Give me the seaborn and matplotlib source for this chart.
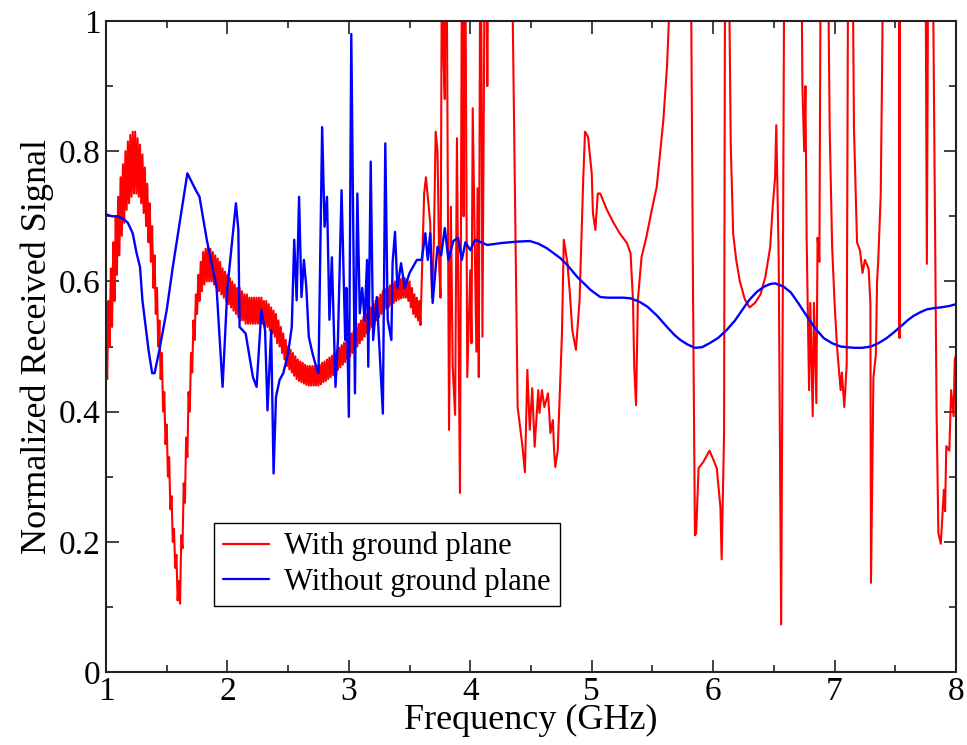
import matplotlib
matplotlib.use("Agg")
import matplotlib.pyplot as plt
import seaborn as sns
import pandas as pd

# ---------------- data ----------------
x_ticks = [1, 2, 3, 4, 5, 6, 7, 8]
y_ticks = [0, 0.2, 0.4, 0.6, 0.8, 1.0]
y_tick_labels = ["0", "0.2", "0.4", "0.6", "0.8", "1"]
series_names = ["With ground plane", "Without ground plane"]

# "With ground plane": fast ripple band 1.0-3.6 GHz, read as upper and lower crests
red_ripple_hi_freq = [
    1.00, 1.02, 1.04, 1.06, 1.08, 1.10, 1.12, 1.14, 1.16, 1.18,
    1.20, 1.22, 1.24, 1.26, 1.28, 1.30, 1.32, 1.34, 1.36, 1.38,
    1.40, 1.42, 1.44, 1.46, 1.48, 1.50, 1.52, 1.54, 1.56, 1.58,
    1.60, 1.62, 1.64, 1.66, 1.68, 1.70, 1.72, 1.74, 1.76, 1.78,
    1.80, 1.82, 1.84, 1.86, 1.88, 1.90, 1.92, 1.94, 1.96, 1.98,
    2.00, 2.02, 2.04, 2.06, 2.08, 2.10, 2.12, 2.14, 2.16, 2.18,
    2.20, 2.22, 2.24, 2.26, 2.28, 2.30, 2.32, 2.34, 2.36, 2.38,
    2.40, 2.42, 2.44, 2.46, 2.48, 2.50, 2.52, 2.54, 2.56, 2.58,
    2.60, 2.62, 2.64, 2.66, 2.68, 2.70, 2.72, 2.74, 2.76, 2.78,
    2.80, 2.82, 2.84, 2.86, 2.88, 2.90, 2.92, 2.94, 2.96, 2.98,
    3.00, 3.02, 3.04, 3.06, 3.08, 3.10, 3.12, 3.14, 3.16, 3.18,
    3.20, 3.22, 3.24, 3.26, 3.28, 3.30, 3.32, 3.34, 3.36, 3.38,
    3.40, 3.42, 3.44, 3.46, 3.48, 3.50, 3.52, 3.54, 3.56, 3.58,
]
red_ripple_hi = [
    0.50, 0.57, 0.62, 0.66, 0.70, 0.73, 0.76, 0.78, 0.80, 0.815,
    0.825, 0.83, 0.83, 0.82, 0.81, 0.795, 0.775, 0.75, 0.72, 0.685,
    0.64, 0.59, 0.54, 0.49, 0.43, 0.38, 0.33, 0.27, 0.22, 0.18,
    0.14, 0.21, 0.29, 0.36, 0.43, 0.49, 0.54, 0.58, 0.61, 0.63,
    0.645, 0.65, 0.655, 0.65, 0.645, 0.64, 0.635, 0.63, 0.62, 0.615,
    0.61, 0.605, 0.60, 0.595, 0.59, 0.59, 0.585, 0.58, 0.58, 0.575,
    0.575, 0.575, 0.575, 0.575, 0.575, 0.57, 0.57, 0.565, 0.56, 0.555,
    0.55, 0.54, 0.53, 0.52, 0.51, 0.50, 0.495, 0.49, 0.485, 0.48,
    0.477, 0.475, 0.472, 0.47, 0.47, 0.47, 0.47, 0.47, 0.472, 0.475,
    0.477, 0.48, 0.483, 0.486, 0.49, 0.494, 0.498, 0.502, 0.506, 0.51,
    0.515, 0.52, 0.525, 0.53, 0.535, 0.54, 0.545, 0.55, 0.555, 0.56,
    0.565, 0.57, 0.575, 0.58, 0.585, 0.588, 0.591, 0.594, 0.597, 0.60,
    0.602, 0.604, 0.605, 0.605, 0.603, 0.60, 0.59, 0.58, 0.575, 0.57,
]
red_ripple_lo_freq = [
    1.01, 1.03, 1.05, 1.07, 1.09, 1.11, 1.13, 1.15, 1.17, 1.19,
    1.21, 1.23, 1.25, 1.27, 1.29, 1.31, 1.33, 1.35, 1.37, 1.39,
    1.41, 1.43, 1.45, 1.47, 1.49, 1.51, 1.53, 1.55, 1.57, 1.59,
    1.61, 1.63, 1.65, 1.67, 1.69, 1.71, 1.73, 1.75, 1.77, 1.79,
    1.81, 1.83, 1.85, 1.87, 1.89, 1.91, 1.93, 1.95, 1.97, 1.99,
    2.01, 2.03, 2.05, 2.07, 2.09, 2.11, 2.13, 2.15, 2.17, 2.19,
    2.21, 2.23, 2.25, 2.27, 2.29, 2.31, 2.33, 2.35, 2.37, 2.39,
    2.41, 2.43, 2.45, 2.47, 2.49, 2.51, 2.53, 2.55, 2.57, 2.59,
    2.61, 2.63, 2.65, 2.67, 2.69, 2.71, 2.73, 2.75, 2.77, 2.79,
    2.81, 2.83, 2.85, 2.87, 2.89, 2.91, 2.93, 2.95, 2.97, 2.99,
    3.01, 3.03, 3.05, 3.07, 3.09, 3.11, 3.13, 3.15, 3.17, 3.19,
    3.21, 3.23, 3.25, 3.27, 3.29, 3.31, 3.33, 3.35, 3.37, 3.39,
    3.41, 3.43, 3.45, 3.47, 3.49, 3.51, 3.53, 3.55, 3.57, 3.59,
]
red_ripple_lo = [
    0.45, 0.50, 0.53, 0.57, 0.61, 0.64, 0.67, 0.69, 0.71, 0.72,
    0.73, 0.735, 0.735, 0.73, 0.72, 0.705, 0.685, 0.66, 0.63, 0.59,
    0.55, 0.50, 0.45, 0.40, 0.35, 0.30, 0.25, 0.20, 0.16, 0.11,
    0.105, 0.19, 0.26, 0.33, 0.40, 0.46, 0.51, 0.55, 0.57, 0.585,
    0.595, 0.60, 0.60, 0.60, 0.595, 0.59, 0.585, 0.58, 0.575, 0.57,
    0.565, 0.56, 0.555, 0.55, 0.545, 0.54, 0.54, 0.535, 0.535, 0.535,
    0.535, 0.535, 0.535, 0.535, 0.535, 0.53, 0.53, 0.525, 0.52, 0.515,
    0.505, 0.50, 0.49, 0.48, 0.47, 0.465, 0.46, 0.455, 0.45, 0.447,
    0.445, 0.443, 0.441, 0.44, 0.44, 0.44, 0.44, 0.44, 0.442, 0.445,
    0.447, 0.45, 0.453, 0.456, 0.46, 0.464, 0.468, 0.472, 0.476, 0.48,
    0.485, 0.49, 0.495, 0.50, 0.505, 0.51, 0.515, 0.52, 0.525, 0.53,
    0.535, 0.54, 0.545, 0.55, 0.555, 0.558, 0.561, 0.564, 0.567, 0.57,
    0.572, 0.574, 0.575, 0.575, 0.57, 0.56, 0.55, 0.545, 0.54, 0.533,
]
# "With ground plane": resonant part 3.6-8 GHz (values above 1 are off the top)
red_tail_freq = [
    3.62, 3.635, 3.65, 3.67, 3.685, 3.70, 3.715, 3.73, 3.745,
    3.755, 3.77, 3.78, 3.79, 3.80, 3.825, 3.84, 3.855, 3.875, 3.89,
    3.915, 3.935, 3.945, 3.955, 3.975, 4.00, 4.01, 4.02, 4.05, 4.06,
    4.07, 4.085, 4.10, 4.125, 4.14, 4.155, 4.25, 4.34, 4.35, 4.39,
    4.43, 4.45, 4.47, 4.49, 4.51, 4.53, 4.56, 4.57, 4.59, 4.61,
    4.64, 4.66, 4.68, 4.69, 4.70, 4.72, 4.755, 4.77, 4.80, 4.82,
    4.84, 4.87, 4.90, 4.93, 4.945, 4.97, 5.00, 5.01, 5.03, 5.05,
    5.07, 5.125, 5.18, 5.23, 5.29, 5.32, 5.34, 5.35, 5.365, 5.38,
    5.41, 5.45, 5.495, 5.535, 5.56, 5.59, 5.62, 5.64, 5.66, 5.80,
    5.82, 5.835, 5.85, 5.86, 5.88, 5.92, 5.97, 6.00, 6.03, 6.05,
    6.06, 6.07, 6.09, 6.10, 6.125, 6.135, 6.145, 6.165, 6.19, 6.22,
    6.26, 6.30, 6.345, 6.39, 6.43, 6.47, 6.49, 6.51, 6.52, 6.54,
    6.56, 6.575, 6.59, 6.72, 6.735, 6.75, 6.76, 6.77, 6.79, 6.80,
    6.82, 6.83, 6.85, 6.86, 6.875, 6.89, 6.935, 6.96, 6.98, 7.00,
    7.02, 7.035, 7.05, 7.06, 7.08, 7.10, 7.115, 7.14, 7.16, 7.185,
    7.21, 7.23, 7.25, 7.28, 7.295, 7.30, 7.32, 7.34, 7.35, 7.36,
    7.38, 7.39, 7.41, 7.53, 7.535, 7.54, 7.745, 7.76, 7.775, 7.80,
    7.83, 7.84, 7.855, 7.875, 7.90, 7.91, 7.92, 7.945, 7.96, 7.98,
    7.99, 8.00,
]
red_tail = [
    0.735, 0.76, 0.73, 0.69, 0.575, 0.66, 0.83, 0.80, 0.62,
    0.575, 1.30, 0.94, 0.88, 1.30, 0.372, 0.715, 0.469, 0.395, 0.82,
    0.275, 1.30, 0.70, 1.30, 0.453, 0.617, 0.505, 0.866, 0.492, 0.743,
    0.453, 1.30, 0.515, 1.30, 0.90, 1.30, 1.30, 1.30, 1.00, 0.407,
    0.346, 0.307, 0.464, 0.372, 0.436, 0.346, 0.433, 0.398, 0.433, 0.407,
    0.428, 0.367, 0.387, 0.341, 0.315, 0.34, 0.52, 0.664, 0.628, 0.582,
    0.525, 0.495, 0.571, 0.756, 0.83, 0.822, 0.766, 0.705, 0.679, 0.735,
    0.735, 0.71, 0.69, 0.674, 0.659, 0.643, 0.571, 0.469, 0.41, 0.571,
    0.637, 0.668, 0.71, 0.745, 0.791, 0.848, 0.93, 1.02, 1.30, 1.30,
    1.00, 0.567, 0.21, 0.213, 0.313, 0.323, 0.34, 0.327, 0.313, 0.273,
    0.253, 0.173, 0.367, 1.30, 1.30, 1.00, 0.81, 0.673, 0.633, 0.60,
    0.573, 0.56, 0.567, 0.58, 0.607, 0.653, 0.713, 0.76, 0.84, 0.633,
    0.073, 0.633, 1.30, 1.30, 0.90, 0.80, 0.90, 0.667, 0.433, 0.567,
    0.393, 0.567, 0.413, 0.667, 0.63, 1.30, 1.30, 0.833, 0.653, 0.567,
    0.50, 0.467, 0.433, 0.46, 0.407, 0.473, 1.30, 1.30, 0.833, 0.66,
    0.647, 0.613, 0.633, 0.62, 0.567, 0.137, 0.453, 0.487, 0.60, 0.633,
    0.733, 0.90, 1.30, 1.30, 0.513, 1.30, 1.30, 0.627, 1.30, 1.30,
    0.633, 0.40, 0.213, 0.197, 0.28, 0.247, 0.347, 0.34, 0.433, 0.393,
    0.48, 0.487,
]

# "Without ground plane"
blue_freq = [
    1.00, 1.05, 1.10, 1.15, 1.18, 1.22, 1.25, 1.28, 1.30, 1.35,
    1.38, 1.40, 1.44, 1.50, 1.55, 1.61, 1.67, 1.70, 1.74, 1.77,
    1.83, 1.91, 1.96, 2.00, 2.04, 2.07, 2.09, 2.10, 2.15, 2.21,
    2.24, 2.28, 2.31, 2.33, 2.36, 2.38, 2.40, 2.43, 2.46, 2.50,
    2.53, 2.55, 2.57, 2.59, 2.61, 2.63, 2.65, 2.67, 2.70, 2.73,
    2.75, 2.78, 2.80, 2.82, 2.84, 2.86, 2.89, 2.91, 2.94, 2.97,
    2.98, 3.00, 3.02, 3.05, 3.07, 3.09, 3.11, 3.13, 3.15, 3.16,
    3.18, 3.20, 3.23, 3.26, 3.28, 3.30, 3.32, 3.35, 3.36, 3.38,
    3.40, 3.43, 3.46, 3.50, 3.56, 3.60, 3.63, 3.65, 3.67, 3.69,
    3.73, 3.76, 3.79, 3.82, 3.86, 3.90, 3.93, 3.96, 4.00, 4.04,
    4.14, 4.26, 4.38, 4.49, 4.56, 4.63, 4.74, 4.80, 4.88, 4.94,
    4.99, 5.07, 5.13, 5.20, 5.26, 5.32, 5.39, 5.46, 5.54, 5.62,
    5.68, 5.73, 5.79, 5.85, 5.91, 5.97, 6.04, 6.11, 6.18, 6.25,
    6.30, 6.36, 6.42, 6.47, 6.51, 6.58, 6.64, 6.70, 6.77, 6.84,
    6.91, 6.98, 7.05, 7.10, 7.16, 7.23, 7.30, 7.36, 7.43, 7.49,
    7.54, 7.60, 7.65, 7.71, 7.76, 7.82, 7.87, 7.94, 8.00,
]
blue_signal = [
    0.703, 0.70, 0.70, 0.695, 0.69, 0.674, 0.645, 0.622, 0.571, 0.495,
    0.459, 0.459, 0.495, 0.556, 0.622, 0.694, 0.766, 0.755, 0.74, 0.73,
    0.664, 0.592, 0.438, 0.59, 0.664, 0.72, 0.679, 0.53, 0.52, 0.453,
    0.438, 0.556, 0.525, 0.402, 0.525, 0.305, 0.423, 0.449, 0.459, 0.49,
    0.53, 0.664, 0.571, 0.73, 0.576, 0.633, 0.59, 0.515, 0.49, 0.469,
    0.459, 0.837, 0.684, 0.73, 0.541, 0.637, 0.438, 0.51, 0.74, 0.51,
    0.59, 0.392, 0.98, 0.428, 0.735, 0.551, 0.59, 0.54, 0.633, 0.469,
    0.784, 0.51, 0.576, 0.469, 0.397, 0.812, 0.541, 0.51, 0.628, 0.676,
    0.59, 0.628, 0.59, 0.613, 0.633, 0.633, 0.674, 0.633, 0.674, 0.567,
    0.653, 0.64, 0.682, 0.633, 0.662, 0.667, 0.633, 0.66, 0.648, 0.664,
    0.656, 0.659, 0.661, 0.662, 0.658, 0.651, 0.636, 0.625, 0.607, 0.596,
    0.587, 0.576, 0.575, 0.575, 0.575, 0.574, 0.569, 0.561, 0.547, 0.53,
    0.518, 0.51, 0.503, 0.498, 0.499, 0.505, 0.513, 0.525, 0.54, 0.559,
    0.572, 0.584, 0.592, 0.596, 0.597, 0.592, 0.583, 0.567, 0.547, 0.528,
    0.513, 0.505, 0.50, 0.499, 0.498, 0.498, 0.50, 0.505, 0.513, 0.522,
    0.53, 0.54, 0.547, 0.553, 0.557, 0.559, 0.56, 0.562, 0.565,
]

# ---------------- styling ----------------
sns.set_theme(style="ticks")
plt.rcParams["font.family"] = ["Liberation Serif", "DejaVu Serif"]
plt.rcParams["text.color"] = "black"
plt.rcParams["axes.labelcolor"] = "black"

fig = plt.figure(figsize=(9.67, 7.45), dpi=100)
ax = fig.add_axes([106 / 967, 1 - 672 / 745, 850 / 967, 651 / 745])

red_df = pd.concat([
    pd.DataFrame({"freq": red_ripple_hi_freq, "signal": red_ripple_hi}),
    pd.DataFrame({"freq": red_ripple_lo_freq, "signal": red_ripple_lo}),
    pd.DataFrame({"freq": red_tail_freq, "signal": red_tail}),
]).sort_values("freq").reset_index(drop=True)
blue_df = pd.DataFrame({"freq": blue_freq, "signal": blue_signal})

sns.lineplot(data=red_df, x="freq", y="signal", ax=ax, color="#ff0000",
             linewidth=1.5, estimator=None, sort=False, label=series_names[0])
sns.lineplot(data=blue_df, x="freq", y="signal", ax=ax, color="#0000ff",
             linewidth=1.7, estimator=None, sort=False, label=series_names[1])

ax.set_xlim(1, 8)
ax.set_ylim(0, 1)
ax.set_xticks(x_ticks)
ax.set_xticklabels([str(v) for v in x_ticks])
ax.set_yticks(y_ticks)
ax.set_yticklabels(y_tick_labels)
ax.set_xticks([1.5, 2.5, 3.5, 4.5, 5.5, 6.5, 7.5], minor=True)
ax.set_yticks([0.1, 0.3, 0.5, 0.7, 0.9], minor=True)

ax.tick_params(which="both", direction="in", top=True, right=True,
               colors="#222222", labelcolor="black", width=1.2)
ax.tick_params(which="major", length=9, labelsize=24)
ax.tick_params(which="minor", length=5)
ax.tick_params(axis="y", which="major", pad=4)
ax.tick_params(axis="x", which="major", pad=3)

for sp in ax.spines.values():
    sp.set_visible(True)
    sp.set_linewidth(1.5)
    sp.set_color("#222222")

ax.set_xlabel("Frequency (GHz)", fontsize=26, labelpad=-2, color="black")
ax.set_ylabel("Normalized Received Signal", fontsize=26, labelpad=3, color="black")

leg = ax.legend(loc="lower left", bbox_to_anchor=(0.127, 0.101),
                borderaxespad=0, frameon=True, fancybox=False,
                edgecolor="black", framealpha=1, fontsize=22,
                handlelength=1.5, handletextpad=0.5, borderpad=0.3,
                labelspacing=0.2)
leg.get_frame().set_linewidth(1.0)
for text in leg.get_texts():
    text.set_color("black")
for line in leg.get_lines():
    line.set_linewidth(1.6)

fig.savefig("out.png", dpi=100)
